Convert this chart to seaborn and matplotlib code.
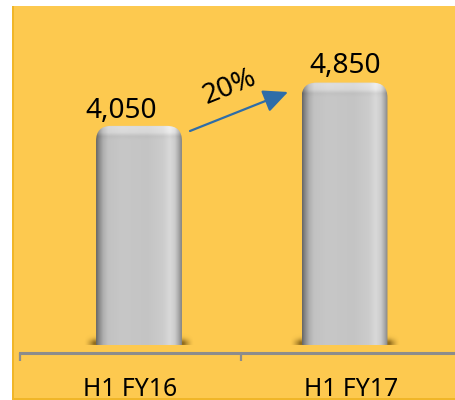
import numpy as np
import pandas as pd
import matplotlib
matplotlib.use("Agg")
import matplotlib.pyplot as plt
import seaborn as sns
from matplotlib.patches import FancyBboxPatch, Rectangle

# ---- data -------------------------------------------------------------
periods = ["H1 FY16", "H1 FY17"]
revenue = [4050, 4850]

# ---- styling ----------------------------------------------------------
W, H, DPI = 456, 400, 100
PANEL = "#FDC94F"
PANEL_EDGE = "#F0B628"
AXIS_GREY = "#8C8C8C"
ARROW_BLUE = "#2F6DA8"
PX_PER_UNIT = 0.0541          # vertical scale of the bars (pixels per unit)
LABEL_SHIFT_PX = [(-17.5, 8), (1, 10)]   # value label nudges (x, y) in pixels

sns.set_theme(style="white")
plt.rcParams["font.family"] = ["Noto Sans", "DejaVu Sans"]

df = pd.DataFrame({"period": periods, "revenue": revenue})

fig = plt.figure(figsize=(W / DPI, H / DPI), dpi=DPI, facecolor="white")


def fx(px):
    return px / W


def fy(py):
    return 1 - py / H


# coloured backdrop
fig.patches.append(Rectangle((fx(12), 0), 1, fy(6), transform=fig.transFigure,
                             facecolor=PANEL, edgecolor="none", zorder=-3))
fig.patches.append(Rectangle((fx(12), 0), fx(2), fy(6), transform=fig.transFigure,
                             facecolor=PANEL_EDGE, edgecolor="none", zorder=-2))
fig.patches.append(Rectangle((fx(12), 0), 1, 2 / H, transform=fig.transFigure,
                             facecolor=PANEL_EDGE, edgecolor="none", zorder=-2))

# category axis (front edge of the floor)
ax_cat = fig.add_axes([fx(19.5), fy(352.5), fx(462 - 19.5), (352.5 - 6) / H])
ax_cat.set_facecolor("none")
ax_cat.set_xlim(-0.5, 1.5)
ax_cat.set_ylim(0, 1)
for side in ["left", "right", "top"]:
    ax_cat.spines[side].set_visible(False)
ax_cat.spines["bottom"].set_color(AXIS_GREY)
ax_cat.spines["bottom"].set_linewidth(2.2)
ax_cat.set_xticks(range(len(periods)), periods)
ax_cat.set_xticks([-0.5, 0.5, 1.5], minor=True)
ax_cat.set_yticks([])
ax_cat.tick_params(axis="x", which="major", length=0, pad=17.5, labelsize=17.8,
                   labelcolor="black")
ax_cat.tick_params(axis="x", which="minor", length=6, width=1.6, color=AXIS_GREY,
                   direction="out", bottom=True)

# bar axes (set back slightly, as on a 3-D floor)
ax = fig.add_axes([fx(36.25), fy(345), fx(447.25 - 36.25), 300 / H])
ax.set_facecolor("none")
sns.barplot(data=df, x="period", y="revenue", ax=ax, width=0.418,
            color="#c8c8c8", saturation=1)
ax.set_xlim(-0.5, 1.5)
ax.set_ylim(0, 300 / PX_PER_UNIT)
ax.axis("off")

sx = 2.0 / (447.25 - 36.25)   # data units per pixel (x)
sy = 1.0 / PX_PER_UNIT        # data units per pixel (y)

# horizontal shading profile of the rounded column
h_stops = [0.0, 0.03, 0.08, 0.14, 0.3, 0.6, 0.78, 0.86, 0.92, 0.965, 1.0]
h_vals = [0.40, 0.52, 0.68, 0.76, 0.78, 0.77, 0.80, 0.85, 0.80, 0.66, 0.52]

for i, p in enumerate(list(ax.patches)):
    x0, w, h = p.get_x(), p.get_width(), p.get_height()
    p.set_visible(False)

    # soft contact shadow under the column
    nx_s, ny_s = 200, 60
    xs = np.linspace(-14, w / sx + 14, nx_s)
    ys = np.linspace(12, -4, ny_s)
    edge = np.clip(np.minimum(xs + 12, w / sx + 12 - xs) / 10, 0, 1)
    vert = np.exp(-((ys - 1.5) / 4.5) ** 2)
    alpha = 0.75 * np.outer(vert, edge ** 1.5)
    shadow = np.zeros((ny_s, nx_s, 4))
    shadow[..., 0], shadow[..., 1], shadow[..., 2] = 0.42, 0.30, 0.05
    shadow[..., 3] = alpha
    ax.imshow(shadow, extent=[x0 - 14 * sx, x0 + w + 14 * sx, -4 * sy, 12 * sy],
              aspect="auto", zorder=1, interpolation="bilinear")

    # shaded column body with rounded top
    nx, ny = 200, 400
    u = np.linspace(0, 1, nx)
    prof = np.interp(u, h_stops, h_vals)
    d = np.linspace(0, h / sy, ny)          # pixels from the top
    top = np.interp(d, [0, 2, 7, 11, 15, 20], [0.07, 0.09, 0.07, -0.02, 0.0, 0.0])
    val = np.clip(prof[None, :] + top[:, None], 0, 1)
    img = np.dstack([val, val, val])
    im = ax.imshow(img, extent=[x0, x0 + w, 0, h], aspect="auto", zorder=2,
                   interpolation="bilinear")
    r_px = 15
    clip = FancyBboxPatch((x0, -r_px * sy), w, h + r_px * sy,
                          boxstyle=f"round,pad=0,rounding_size={r_px * sx}",
                          mutation_aspect=sy / sx, transform=ax.transData,
                          facecolor="none", edgecolor="none")
    ax.add_patch(clip)
    im.set_clip_path(clip)

ax.set_xlim(-0.5, 1.5)
ax.set_ylim(0, 300 / PX_PER_UNIT)

# value labels
for i, v in enumerate(revenue):
    dx, dy = LABEL_SHIFT_PX[i]
    ax.annotate(f"{v:,}", xy=(i, v), xytext=(dx * 0.72, dy * 0.72),
                textcoords="offset points", ha="center", va="baseline",
                fontsize=20.2, color="black", annotation_clip=False)

# growth arrow
growth = round((revenue[1] / revenue[0] - 1) * 100)
fig.add_artist(plt.Annotation("", xy=(288, H - 92), xytext=(190, H - 131),
                              xycoords="figure pixels", textcoords="figure pixels",
                              arrowprops=dict(arrowstyle="-|>,head_length=0.75,head_width=0.35",
                                              color=ARROW_BLUE, lw=1.6,
                                              shrinkA=0, shrinkB=0, mutation_scale=20)))
fig.text(fx(230), fy(87), f"{growth}%", rotation=22, rotation_mode="anchor",
         ha="center", va="center", fontsize=20.2, color="black")

fig.savefig("out.png", dpi=DPI, facecolor="white")
